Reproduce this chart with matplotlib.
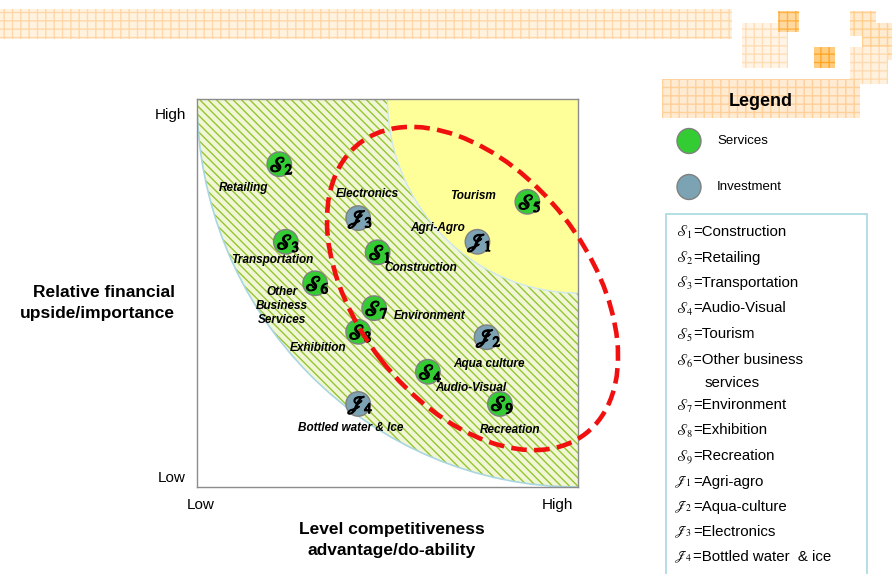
import matplotlib
matplotlib.use("Agg")
import matplotlib.pyplot as plt
import matplotlib.patheffects as pe
from matplotlib.patches import Wedge, Arc, Ellipse, Rectangle
from matplotlib.transforms import IdentityTransform

plt.rcParams['font.family'] = ['Liberation Sans', 'DejaVu Sans']
plt.rcParams['hatch.linewidth'] = 1.0

# data (0-10 scale on both axes)
codes = ['S2', 'S3', 'S6', 'S8', 'S7', 'S1', 'J3', 'J1', 'S5', 'J2', 'S4', 'S9', 'J4']
names = ['Retailing', 'Transportation', 'Other\nBusiness\nServices', 'Exhibition',
         'Environment', 'Construction', 'Electronics', 'Agri-Agro', 'Tourism',
         'Aqua culture', 'Audio-Visual', 'Recreation', 'Bottled water & Ice']
competitiveness = [2.16, 2.33, 3.10, 4.23, 4.65, 4.74, 4.23, 7.36, 8.67, 7.60, 6.06, 7.95, 4.23]
importance = [8.32, 6.32, 5.25, 4.00, 4.61, 6.05, 6.93, 6.32, 7.35, 3.86, 2.97, 2.14, 2.14]
# label offsets from each point (data units)
label_dx = [-0.93, -0.35, -0.88, -1.06, 1.46, 1.14, 0.25, -1.05, -1.42, 0.07, 1.13, 0.26, -0.20]
label_dy = [-0.61, -0.47, -0.59, -0.41, -0.20, -0.40, 0.63, 0.36, 0.15, -0.69, -0.41, -0.67, -0.61]

legend_letters = ['S', 'S', 'S', 'S', 'S', 'S', 'S', 'S', 'S', 'J', 'J', 'J', 'J']
legend_subs = ['1', '2', '3', '4', '5', '6', '7', '8', '9', '1', '2', '3', '4']
legend_names = ['Construction', 'Retailing', 'Transportation', 'Audio-Visual', 'Tourism',
                'Other business\nservices', 'Environment', 'Exhibition', 'Recreation',
                'Agri-agro', 'Aqua-culture', 'Electronics', 'Bottled water  & ice']

green = '#33CC33'
bluegray = '#7BA3B4'
W, H = 892, 574


def px(x, y):
    return x / W, 1 - y / H


fig = plt.figure(figsize=(W / 100, H / 100), dpi=100)

# header decoration
fig.patches.append(Rectangle(px(0, 39), 732 / W, 30 / H, transform=fig.transFigure,
                             facecolor='#FFF3E0', edgecolor='#FFD7A8', hatch='++', lw=0))
for x0, y0, x1, y1, fc, ec in [(742, 23, 788, 68, '#FFF4E6', '#FFDDB5'),
                               (778, 11, 799, 32, '#FFD9A0', '#FFB347'),
                               (814, 47, 835, 68, '#FFCC80', '#FFA726'),
                               (850, 11, 876, 36, '#FFEBD0', '#FFCF90'),
                               (862, 23, 892, 60, '#FFEBD0', '#FFCF90'),
                               (850, 47, 888, 84, '#FFF1DE', '#FFDAB0'),
                               (662, 79, 860, 118, '#FFEBD2', '#FFD09A')]:
    fig.patches.append(Rectangle(px(x0, y1), (x1 - x0) / W, (y1 - y0) / H,
                                 transform=fig.transFigure, facecolor=fc, edgecolor=ec,
                                 hatch='++', lw=0))

ax = fig.add_axes([197 / W, 87 / H, 381 / W, 388 / H])
ax.set_xlim(0, 10)
ax.set_ylim(0, 10)

# hatched band and yellow corner
ax.add_patch(Wedge((10, 10), 10, 180, 270, facecolor='#F1F7D6', edgecolor='#96C531',
                   hatch='\\\\\\\\', lw=0, zorder=1))
ax.add_patch(Arc((10, 10), 20, 20, theta1=180, theta2=270, color='#A9D6E2', lw=1.2, zorder=2))
ax.add_patch(Wedge((10, 10), 5, 180, 270, facecolor='#FFFF99', edgecolor='none', zorder=2))
ax.add_patch(Arc((10, 10), 10, 10, theta1=180, theta2=270, color='#CFE8EE', lw=1.0, zorder=2))

colors = [green if c[0] == 'S' else bluegray for c in codes]
ax.scatter(competitiveness, importance, s=310, c=colors, edgecolors='#808080',
           linewidths=1.0, zorder=4)
bold = [pe.withStroke(linewidth=0.9, foreground='black')]
for c, x, y in zip(codes, competitiveness, importance):
    ax.text(x + 0.06, y - 0.04, r'$\mathscr{%s}_{%s}$' % (c[0], c[1]), math_fontfamily='stix',
            fontsize=15, ha='center', va='center', color='black', zorder=5, path_effects=bold)
for n, x, y, dx, dy in zip(names, competitiveness, importance, label_dx, label_dy):
    ax.text(x + dx, y + dy, n, fontsize=8.5, fontweight='bold', fontstyle='italic',
            ha='center', va='center', linespacing=1.25, zorder=6)

# dashed focus ellipse, drawn in pixel space
ax.add_patch(Ellipse((472.5, H - 288.5), 368, 232, angle=-52, fill=False,
                     edgecolor='#F01010', lw=3.3, linestyle=(0, (3.4, 1.6)),
                     transform=IdentityTransform(), zorder=7, clip_on=False))

for s in ax.spines.values():
    s.set_color('#8C8C8C')
    s.set_linewidth(1.0)
ax.set_xticks([0.1, 9.45])
ax.set_xticklabels(['Low', 'High'], fontsize=11)
ax.set_yticks([0.28, 9.62])
ax.set_yticklabels(['Low', 'High'], fontsize=11)
ax.tick_params(length=0, pad=8)

fig.text(*px(175, 303), 'Relative financial\nupside/importance', ha='right', va='center',
         fontsize=12.5, fontweight='bold', multialignment='right', linespacing=1.45)
fig.text(*px(392, 540), 'Level competitiveness\nadvantage/do-ability', ha='center',
         va='center', fontsize=12.5, fontweight='bold', linespacing=1.45)

# legend panel
fig.text(*px(761, 101), 'Legend', ha='center', va='center', fontsize=13, fontweight='bold')
for yy, col, lab in [(141, green, 'Services'), (187, bluegray, 'Investment')]:
    fig.patches.append(Ellipse(px(689, yy), 24 / W, 25 / H, transform=fig.transFigure,
                               facecolor=col, edgecolor='#808080', lw=1.0))
    fig.text(*px(717, yy), lab, ha='left', va='center', fontsize=9.5)

fig.patches.append(Rectangle(px(666, 580), 201 / W, 366 / H, transform=fig.transFigure,
                             facecolor='white', edgecolor='#A8D8E0', lw=1.2))
row_y = [231.7, 257.7, 282.7, 308.3, 334, 360, 405, 430, 456, 481.7, 506.7, 531.7, 556.7]
for letter, sub, lab, yy in zip(legend_letters, legend_subs, legend_names, row_y):
    x_sym = 676 if letter == 'S' else 674
    fig.text(*px(x_sym, yy + 1), r'$\mathscr{%s}_{%s}$' % (letter, sub), math_fontfamily='stix',
             ha='left', va='center', fontsize=10.5 if letter == 'S' else 10)
    lines = lab.split('\n')
    fig.text(*px(693, yy), '=' + lines[0], ha='left', va='center', fontsize=10.8)
    if len(lines) > 1:
        fig.text(*px(705, yy + 23.3), lines[1], ha='left', va='center', fontsize=10.8)

fig.savefig('out.png', dpi=100)
